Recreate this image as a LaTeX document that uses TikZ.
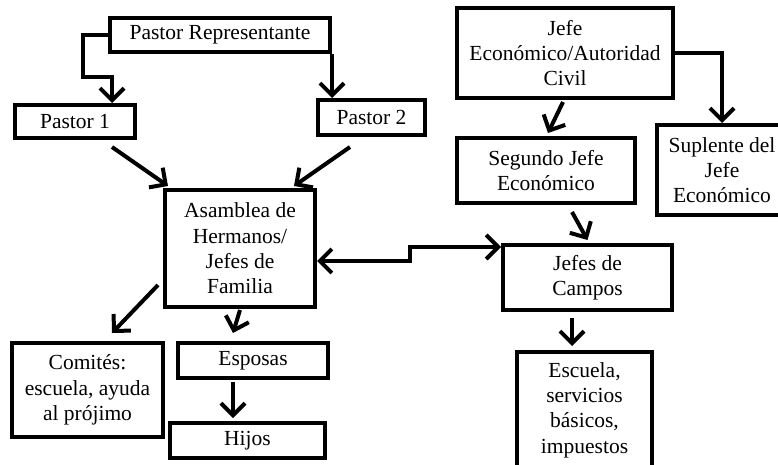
\documentclass[tikz,border=0pt]{standalone}
\usepackage{fontspec}
\setmainfont{Liberation Serif}
\usetikzlibrary{arrows.meta,calc}
\begin{document}
\begin{tikzpicture}[x=1pt,y=-1pt,
  box/.style={draw,line width=4pt,inner sep=0pt,align=center,
    font=\fontsize{21.5}{25.3}\selectfont},
  tipb/.tip={Straight Barb[length=12pt,width=24pt]},
  arr/.style={line width=4pt,-tipb},
  arrb/.style={line width=4pt,tipb-tipb}]
\useasboundingbox (0,0) rectangle (778,465);
% boxes
\node[box,minimum width=220pt,minimum height=34pt] (PR) at (220,35) {Pastor Representante};
\node[box,minimum width=120pt,minimum height=33pt] (P1) at (75,121.5) {Pastor 1};
\node[box,minimum width=107pt,minimum height=35pt] (P2) at (371.5,117.5) {Pastor 2};
\node[box,minimum width=150pt,minimum height=117pt] (Asm) at (240,248.5) {Asamblea de\\Hermanos/\\Jefes de\\Familia};
\node[box,minimum width=151pt,minimum height=94pt] (Com) at (87.5,390) {Comités:\\escuela, ayuda\\al prójimo};
\node[box,minimum width=150pt,minimum height=35pt] (Esp) at (253,360.5) {Esposas};
\node[box,minimum width=155pt,minimum height=35pt] (Hij) at (247.5,440.5) {Hijos};
\node[box,minimum width=216pt,minimum height=90pt] (Jefe) at (565,53) {Jefe\\Económico/Autoridad\\Civil};
\node[box,minimum width=178pt,minimum height=65pt] (Seg) at (546,170.5) {Segundo Jefe\\Económico};
\node[box,minimum width=130pt,minimum height=90pt] (Sup) at (722,170) {Suplente del\\Jefe\\Económico};
\node[box,minimum width=169pt,minimum height=65pt] (JdC) at (587.5,277.5) {Jefes de\\Campos};
\node[box,minimum width=135pt,minimum height=116pt] (Esc) at (584.5,410) {Escuela,\\servicios\\básicos,\\impuestos};
% connectors
\coordinate (k0) at (83,35);
\coordinate (k1) at (112,77);
\draw[arr] (PR.west) -- (k0) |- (k1) -- (k1 |- P1.north);
\draw[arr] (PR.south east) -- (PR.south east |- P2.north);
\draw[arr] ($(P1.south)+(37,7)$) -- ($(Asm.north west)+(5,-2)$);
\draw[arr] ($(P2.south)+(-21.5,10)$) -- ($(Asm.north east)+(-23,-2)$);
\draw[arr] ($(Asm.south west)+(-5,-24)$) -- ($(Com.north)+(24.5,-8)$);
\draw[arr] ($(Asm.south)+(0,1)$) -- ($(Esp.north)+(-20,-8)$);
\draw[arr] ($(Esp.south)+(-20,2)$) -- ($(Hij.north)+(-14.5,-3)$);
\coordinate (s1) at (410,261);
\coordinate (s2) at (410,247);
\draw[arrb] (Asm.east |- s1) -- (s1) -- (s2) -- (JdC.west |- s2);
\draw[arr] ($(Seg.south)+(26,7)$) -- ($(JdC.north)+(0,-3)$);
\draw[arr] ($(JdC.south)+(-15.5,6)$) -- ($(Esc.north)+(-12.5,-4)$);
\draw[arr] ($(Jefe.south)+(-2,2)$) -- ($(Seg.north)+(2,-3)$);
\draw[arr] (Jefe.east) -| (Sup.north);
\end{tikzpicture}
\end{document}
